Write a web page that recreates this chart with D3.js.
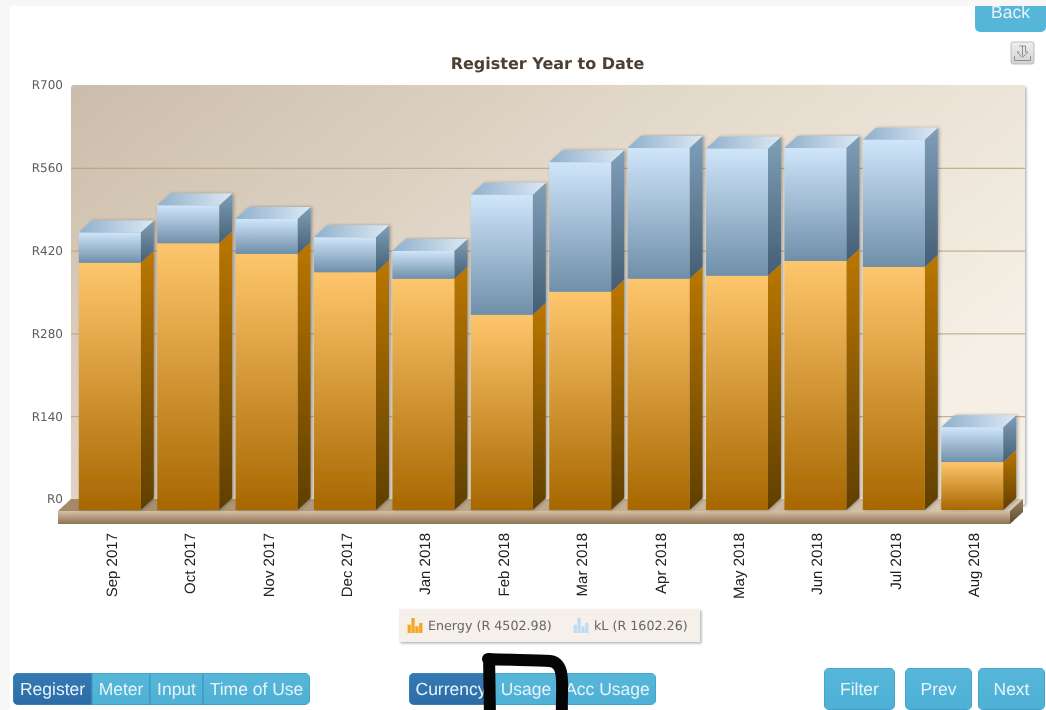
<!DOCTYPE html>
<html>
<head>
<meta charset="utf-8">
<script src="https://cdn.jsdelivr.net/npm/d3@7"></script>
<style>
html, body { margin: 0; padding: 0; background: #fff; overflow: hidden; }
svg { display: block; filter: blur(0.45px); }
text { text-rendering: geometricPrecision; }
</style>
</head>
<body>
<div id="d3-container"></div>
<script>
const months = ["Sep 2017", "Oct 2017", "Nov 2017", "Dec 2017", "Jan 2018", "Feb 2018",
  "Mar 2018", "Apr 2018", "May 2018", "Jun 2018", "Jul 2018", "Aug 2018"];
const energy = [418, 451, 433, 402, 391, 330, 369, 391, 396, 421, 411, 81];
const kl = [51, 64, 59, 59, 47, 203, 219, 221, 215, 191, 215, 59];
const yTicks = [0, 140, 280, 420, 560, 700];
const legendLabels = ["Energy (R 4502.98)", "kL (R 1602.26)"];
const legendBars = [5, 9, 4, 6];
const navLabels = ["Register", "Meter", "Input", "Time of Use"];
const modeLabels = ["Currency", "Usage", "Acc Usage"];

const width = 1046;
const height = 710;
const depth = { x: 13, y: 12 };
const wall = { left: 71, right: 1025, top: 85, bottom: 499 };
const sansFont = "'Liberation Sans', Arial, sans-serif";
const wideFont = "'DejaVu Sans', Verdana, sans-serif";

const svg = d3.select("#d3-container")
  .append("svg")
  .attr("width", width)
  .attr("height", height)
  .attr("viewBox", [0, 0, width, height]);

const defs = svg.append("defs");

function gradient(id, stops, x2 = 0, y2 = 1) {
  const g = defs.append("linearGradient").attr("id", id)
    .attr("x1", 0).attr("y1", 0).attr("x2", x2).attr("y2", y2);
  stops.forEach((c, i) => g.append("stop")
    .attr("offset", i / (stops.length - 1))
    .attr("stop-color", c));
}

gradient("wallFill", ["#cbbdab", "#e3d9ca", "#f5efe5"], 1, 0.55);
gradient("energyFront", ["#fec66c", "#a76700"]);
gradient("energySide", ["#bb7700", "#5f3f04"]);
gradient("klFront", ["#cfe5fa", "#6f8fa9"]);
gradient("klSide", ["#7f9fb9", "#445e74"]);
gradient("klTop", ["#8fb0cd", "#dce8f3"], 1, 0);
gradient("slabFront", ["#d8c1a3", "#8d7153"]);
gradient("slabTop", ["#a38866", "#d8c8b3"], 1, 0.02);
gradient("slabSide", ["#9a815f", "#5f4a31"]);
gradient("btnLight", ["#56b7da", "#4eb0d5"]);
gradient("btnDark", ["#3579b3", "#2c6ca6"]);

const shadow = defs.append("filter").attr("id", "barShadow")
  .attr("x", "-15%").attr("y", "-5%").attr("width", "130%").attr("height", "110%");
shadow.append("feDropShadow").attr("dx", 1.5).attr("dy", 0)
  .attr("stdDeviation", 1.6).attr("flood-color", "#333").attr("flood-opacity", 0.4);

const soft = defs.append("filter").attr("id", "softShadow")
  .attr("x", "-5%").attr("y", "-10%").attr("width", "110%").attr("height", "125%");
soft.append("feDropShadow").attr("dx", 1.5).attr("dy", 1.5)
  .attr("stdDeviation", 1.2).attr("flood-color", "#777").attr("flood-opacity", 0.55);

// faint page margin around the white panel
svg.append("rect").attr("width", width).attr("height", height).attr("fill", "#f7f7f7");
svg.append("rect").attr("x", 10).attr("y", 6)
  .attr("width", width - 10).attr("height", height - 6).attr("fill", "#fff");

const x = d3.scaleBand()
  .domain(months)
  .range([70.6, 1011.4])
  .paddingInner(0.21)
  .paddingOuter(0.105);

// the back wall and the bars share a scale, the bars sit one depth step lower
const yBack = d3.scaleLinear().domain([0, 700]).range([wall.bottom, wall.top]);
const y = d3.scaleLinear().domain([0, 700]).range([wall.bottom + depth.y - 1, wall.top + depth.y - 1]);

svg.append("rect")
  .attr("x", wall.left).attr("y", wall.top)
  .attr("width", wall.right - wall.left).attr("height", wall.bottom - wall.top + 6)
  .attr("rx", 3)
  .attr("fill", "url(#wallFill)")
  .attr("filter", "url(#softShadow)");

const grid = svg.append("g")
  .attr("transform", `translate(${wall.left},0)`)
  .call(d3.axisRight(yBack).tickValues(yTicks.slice(1, -1)).tickSize(wall.right - wall.left).tickFormat(""));
grid.select(".domain").remove();
grid.selectAll("line").attr("stroke", "#b9a27e").attr("stroke-width", 1);

const yAxis = svg.append("g")
  .attr("transform", "translate(70,0)")
  .call(d3.axisLeft(yBack).tickValues(yTicks).tickSize(0).tickPadding(7).tickFormat(d => "R" + d));
yAxis.select(".domain").remove();
yAxis.selectAll("text")
  .attr("font-family", wideFont)
  .attr("font-size", "12px")
  .attr("fill", "#5c5c5c");

// floor slab
const slabTop = wall.bottom + depth.y;
const slabLeft = wall.left - depth.x;
const slabRight = 1010;
svg.append("path")
  .attr("d", `M${slabLeft},${slabTop}L${wall.left},${wall.bottom}L${slabRight + depth.x},${wall.bottom}L${slabRight},${slabTop}Z`)
  .attr("fill", "url(#slabTop)");
svg.append("rect")
  .attr("x", slabLeft).attr("y", slabTop)
  .attr("width", slabRight - slabLeft).attr("height", 13)
  .attr("fill", "url(#slabFront)");
svg.append("path")
  .attr("d", `M${slabRight},${slabTop}L${slabRight + depth.x},${wall.bottom}L${slabRight + depth.x},${wall.bottom + 13}L${slabRight},${slabTop + 13}Z`)
  .attr("fill", "url(#slabSide)");

// stacked bars with a side and a top face
const rows = months.map((m, i) => ({ month: m, energy: energy[i], kl: kl[i] }));
const bars = svg.append("g").selectAll("g")
  .data(rows)
  .join("g")
    .attr("filter", "url(#barShadow)");

function sidePath(d, low, high) {
  const r = x(d.month) + x.bandwidth();
  return `M${r},${y(low)}L${r},${y(high)}L${r + depth.x},${y(high) - depth.y}L${r + depth.x},${y(low) - depth.y}Z`;
}

bars.append("path")
  .attr("d", d => sidePath(d, 0, d.energy))
  .attr("fill", "url(#energySide)");
bars.append("path")
  .attr("d", d => sidePath(d, d.energy, d.energy + d.kl))
  .attr("fill", "url(#klSide)");
bars.append("path")
  .attr("d", d => {
    const l = x(d.month), r = l + x.bandwidth(), t = y(d.energy + d.kl);
    return `M${l},${t}L${l + depth.x},${t - depth.y}L${r + depth.x},${t - depth.y}L${r},${t}Z`;
  })
  .attr("fill", "url(#klTop)");
bars.append("rect")
  .attr("x", d => x(d.month))
  .attr("y", d => y(d.energy))
  .attr("width", x.bandwidth())
  .attr("height", d => y(0) - y(d.energy))
  .attr("fill", "url(#energyFront)");
bars.append("rect")
  .attr("x", d => x(d.month))
  .attr("y", d => y(d.energy + d.kl))
  .attr("width", x.bandwidth())
  .attr("height", d => y(d.energy) - y(d.energy + d.kl))
  .attr("fill", "url(#klFront)");

const xAxis = svg.append("g")
  .attr("transform", "translate(3,533)")
  .call(d3.axisBottom(x).tickSize(0).tickPadding(0));
xAxis.select(".domain").remove();
xAxis.selectAll("text")
  .attr("font-family", sansFont)
  .attr("font-size", "15px")
  .attr("fill", "#222")
  .attr("text-anchor", "end")
  .attr("dy", 0)
  .attr("dominant-baseline", "middle")
  .attr("transform", "rotate(-90)");

svg.append("text")
  .attr("x", 547.5).attr("y", 69)
  .attr("text-anchor", "middle")
  .attr("font-family", wideFont)
  .attr("font-weight", "bold")
  .attr("font-size", "16px")
  .attr("fill", "#4d4033")
  .text("Register Year to Date");

// legend
svg.append("rect")
  .attr("x", 399).attr("y", 609).attr("width", 301).attr("height", 33)
  .attr("fill", "#f5f0e9")
  .attr("filter", "url(#softShadow)");

const legendColors = ["#f5a623", "#bcdcf3"];
const legendX = [407, 573];
const iconX = d3.scaleBand().domain(d3.range(legendBars.length)).range([0, 16]).padding(0.15);
const iconY = d3.scaleLinear().domain([0, 9]).range([0, 15]);
legendLabels.forEach((label, i) => {
  const item = svg.append("g").attr("transform", `translate(${legendX[i]},633)`);
  item.selectAll("rect")
    .data(legendBars)
    .join("rect")
      .attr("x", (d, j) => iconX(j))
      .attr("y", d => -iconY(d))
      .attr("width", iconX.bandwidth())
      .attr("height", d => iconY(d))
      .attr("fill", legendColors[i]);
  item.append("text")
    .attr("x", 21).attr("y", -3)
    .attr("font-family", wideFont)
    .attr("font-size", "12.7px")
    .attr("fill", "#666")
    .text(label);
});

// buttons
function buttonGroup(id, labels, edges, top, bottom, active) {
  const clip = defs.append("clipPath").attr("id", id);
  clip.append("rect")
    .attr("x", edges[0]).attr("y", top)
    .attr("width", edges[edges.length - 1] - edges[0]).attr("height", bottom - top)
    .attr("rx", 5);
  const g = svg.append("g").attr("clip-path", `url(#${id})`);
  labels.forEach((label, i) => {
    g.append("rect")
      .attr("x", edges[i]).attr("y", top)
      .attr("width", edges[i + 1] - edges[i]).attr("height", bottom - top)
      .attr("fill", i === active ? "url(#btnDark)" : "url(#btnLight)")
      .attr("stroke", "#3d93ba").attr("stroke-width", 1);
    g.append("text")
      .attr("x", (edges[i] + edges[i + 1]) / 2).attr("y", (top + bottom) / 2 + 6)
      .attr("text-anchor", "middle")
      .attr("font-family", sansFont)
      .attr("font-size", "17.5px")
      .attr("fill", "#e6f4fa")
      .text(label);
  });
}

buttonGroup("navClip", navLabels, [13, 92, 150, 203, 310], 673, 705, 0);
buttonGroup("modeClip", modeLabels, [409, 493, 559, 656], 673, 705, 0);
buttonGroup("filterClip", ["Filter"], [824, 895], 668, 710, -1);
buttonGroup("prevClip", ["Prev"], [905, 972], 668, 710, -1);
buttonGroup("nextClip", ["Next"], [978, 1045], 668, 710, -1);

// back button is cut off by the top of the panel
const backClip = defs.append("clipPath").attr("id", "backClip");
backClip.append("rect").attr("x", 970).attr("y", 6).attr("width", 76).attr("height", 30);
const back = svg.append("g").attr("clip-path", "url(#backClip)");
back.append("rect").attr("x", 975).attr("y", -8).attr("width", 71).attr("height", 40).attr("rx", 5).attr("fill", "#55b6d9");
back.append("text")
  .attr("x", 1010.5).attr("y", 18)
  .attr("text-anchor", "middle")
  .attr("font-family", sansFont)
  .attr("font-size", "17.5px")
  .attr("fill", "#e6f4fa")
  .text("Back");

// export icon
gradient("iconFill", ["#efefef", "#d0d0d0"]);
const icon = svg.append("g").attr("transform", "translate(1011,42)");
icon.append("rect").attr("width", 23).attr("height", 22).attr("rx", 2)
  .attr("fill", "url(#iconFill)").attr("stroke", "#bdbdbd");
icon.append("path")
  .attr("d", "M11.5,4V14M8.5,4H14.5V10H17L11.5,15.5L6,10H8.5M3.5,14V18.5H19.5V14")
  .attr("fill", "none").attr("stroke", "#8f8f8f").attr("stroke-width", 1);

// hand drawn marker around the Usage button
svg.append("path")
  .attr("d", "M488,659C510,660 535,660 550,661C558,662 561.5,668 562,680C562.5,692 561.5,702 562,716M489,659C489.5,675 489.5,695 490,716")
  .attr("fill", "none")
  .attr("stroke", "#050505")
  .attr("stroke-width", 12)
  .attr("stroke-linecap", "round");
</script>
</body>
</html>
